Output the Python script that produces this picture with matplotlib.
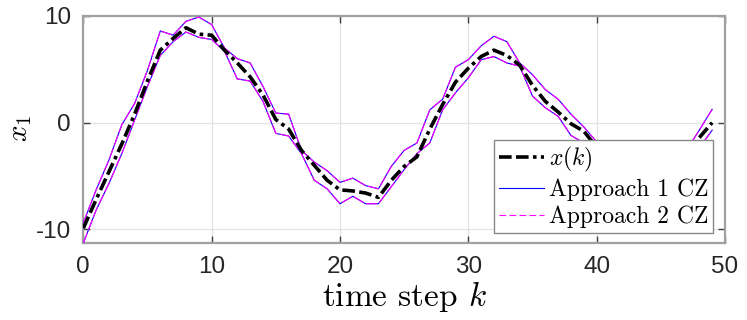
import matplotlib
matplotlib.use("Agg")
import matplotlib.pyplot as plt
from matplotlib.lines import Line2D

plt.rcParams['mathtext.fontset'] = 'cm'
plt.rcParams['axes.unicode_minus'] = False

k = list(range(50))

x_true = [-9.9, -7.2, -4.6, -2.0, 0.8, 3.9, 6.8, 7.9, 8.9, 8.3,
          8.2, 6.8, 5.6, 4.3, 2.6, 0.3, -0.6, -2.6, -4.0, -5.4,
          -6.3, -6.4, -6.6, -7.0, -5.4, -4.1, -3.2, -0.6, 1.7, 3.8,
          5.1, 6.2, 6.8, 6.3, 5.4, 3.5, 2.0, 1.0, -0.1, -0.8,
          -2.3, -3.3, -4.8, -6.0, -6.6, -6.3, -4.6, -2.9, -1.4, 0.0]

a1_upper = [-9.4, -6.3, -3.5, -0.2, 1.8, 4.9, 8.6, 8.2, 9.5, 9.9,
            9.2, 7.0, 6.0, 5.6, 3.4, 0.9, 0.8, -2.6, -3.7, -4.5,
            -5.6, -5.2, -5.9, -6.2, -4.1, -2.6, -1.9, 1.2, 2.2, 5.2,
            5.9, 7.2, 8.1, 7.6, 5.6, 4.5, 3.1, 2.2, 0.8, -0.4,
            -1.8, -1.8, -3.5, -4.8, -5.3, -5.0, -4.0, -2.6, -0.7, 1.25]
a1_lower = [-11.3, -8.2, -5.7, -2.9, 0.25, 3.4, 6.3, 7.6, 8.5, 8.0,
            7.8, 6.7, 4.1, 3.9, 2.0, -1.0, -1.25, -2.9, -5.4, -6.2,
            -7.6, -6.9, -7.6, -7.6, -6.0, -4.4, -2.9, -1.9, 1.2, 2.8,
            4.2, 5.9, 6.2, 5.6, 5.3, 2.5, 1.4, 0.6, -1.2, -1.9,
            -3.2, -4.5, -6.0, -7.2, -7.8, -7.5, -6.5, -4.5, -2.4, -0.7]

a2_upper = [-9.4, -6.3, -3.5, -0.2, 1.8, 4.9, 8.6, 8.2, 9.5, 9.9,
            9.2, 7.0, 6.0, 5.6, 3.4, 0.9, 0.8, -2.6, -3.7, -4.5,
            -5.6, -5.2, -5.9, -6.2, -4.1, -2.6, -1.9, 1.2, 2.2, 5.2,
            5.9, 7.2, 8.1, 7.6, 5.6, 4.5, 3.1, 2.2, 0.8, -0.4,
            -1.8, -1.8, -3.5, -4.8, -5.3, -5.0, -4.0, -2.6, -0.7, 1.25]
a2_lower = [-11.3, -8.2, -5.7, -2.9, 0.25, 3.4, 6.3, 7.6, 8.5, 8.0,
            7.8, 6.7, 4.1, 3.9, 2.0, -1.0, -1.25, -2.9, -5.4, -6.2,
            -7.6, -6.9, -7.6, -7.6, -6.0, -4.4, -2.9, -1.9, 1.2, 2.8,
            4.2, 5.9, 6.2, 5.6, 5.3, 2.5, 1.4, 0.6, -1.2, -1.9,
            -3.2, -4.5, -6.0, -7.2, -7.8, -7.5, -6.5, -4.5, -2.4, -0.7]

xticks = [0, 10, 20, 30, 40, 50]
yticks = [-10, 0, 10]

fig = plt.figure(figsize=(7.47, 3.2), dpi=100)
ax = fig.add_axes([0.1115, 0.240, 0.8590, 0.710])

blue = (0.0, 0.0, 1.0)
mag = (1.0, 0.0, 1.0)
xdash = (3.5, 1.2, 3.5, 1.2, 1.0, 1.2)

ax.plot(k, a1_upper, color=blue, lw=0.8, zorder=3)
ax.plot(k, a1_lower, color=blue, lw=0.8, zorder=3)
ax.plot(k, a2_upper, color=mag, lw=0.8, dashes=(10, 2.5), zorder=4)
ax.plot(k, a2_lower, color=mag, lw=0.8, dashes=(10, 2.5), zorder=4)
ax.plot(k, x_true, color='black', lw=2.6, dashes=xdash, zorder=5)

ax.set_xlim(0, 50)
ax.set_ylim(-11.3, 10)
ax.set_xticks(xticks)
ax.set_yticks(yticks)
ax.set_xticklabels([str(t) for t in xticks])
ax.set_yticklabels([str(t) for t in yticks])
ax.grid(True, color='#e3e3e3', lw=0.9)
ax.set_axisbelow(True)
for s in ax.spines.values():
    s.set_color('#a0a0a0')
    s.set_linewidth(1.6)
ax.tick_params(direction='in', length=5, width=1.0, color='#404040',
               top=True, right=True, labelsize=17.5, labelcolor='#262626', pad=9)
for lab in ax.get_xticklabels() + ax.get_yticklabels():
    lab.set_fontfamily('Liberation Sans')

ax.set_xlabel(r'time step $k$', fontsize=24, fontfamily='cmr10', labelpad=1)
ax.set_ylabel(r'$x_1$', fontsize=21)
ax.yaxis.label.set_va('center')
ax.yaxis.label.set_ha('center')
ax.yaxis.set_label_coords(-0.098, 0.505)

handles = [
    Line2D([], [], color='black', lw=2.6, dashes=xdash),
    Line2D([], [], color=blue, lw=0.8),
    Line2D([], [], color=mag, lw=0.8, dashes=(6, 3)),
]
labels = [r'$x(k)$', 'Approach 1 CZ', 'Approach 2 CZ']
leg = ax.legend(handles, labels, loc='lower right', bbox_to_anchor=(0.981, 0.045),
                borderaxespad=0, fancybox=False, framealpha=1, edgecolor='#888888',
                prop={'family': 'cmr10', 'size': 17}, handlelength=1.9,
                handletextpad=0.2, labelspacing=0.2, borderpad=0.2)
leg.get_frame().set_linewidth(1.0)
leg.set_zorder(10)

fig.savefig('out.png', dpi=100)
